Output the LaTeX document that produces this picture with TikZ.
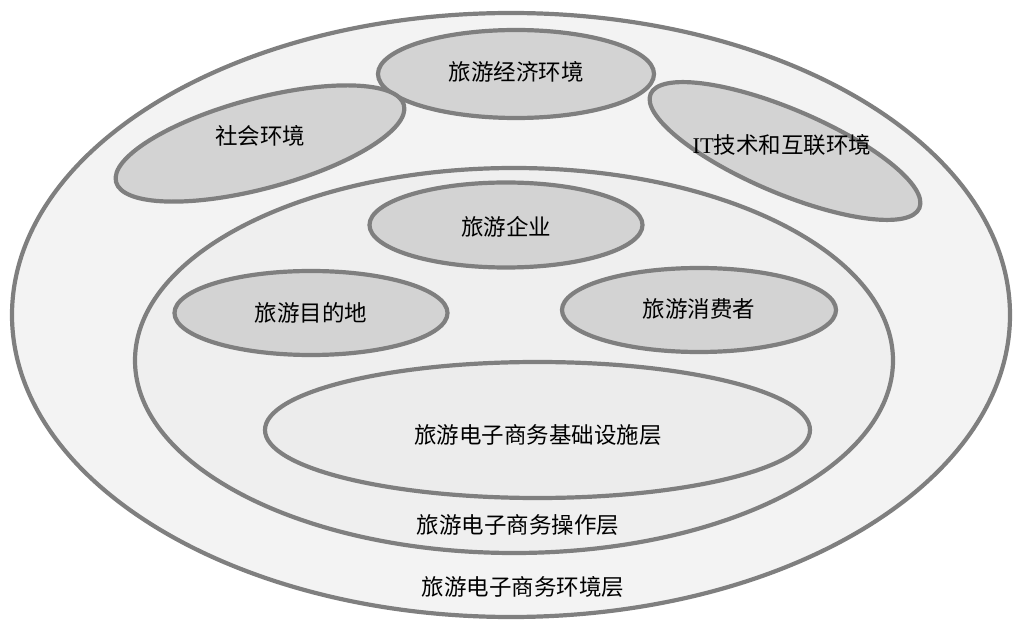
\documentclass[tikz,border=0pt]{standalone}
\usepackage{fontspec}
\setmainfont{Liberation Serif}
\newfontfamily\cjk{Noto Sans CJK SC}
\usetikzlibrary{shapes.geometric}
\definecolor{edge}{HTML}{7F7F7F}
\definecolor{outerfill}{HTML}{F3F3F3}
\definecolor{opfill}{HTML}{EFEFEF}
\definecolor{infill}{HTML}{ECECEC}
\definecolor{darkfill}{HTML}{D3D3D3}
\tikzset{
  shell/.style={ellipse, draw=edge, line width=4.2pt, inner sep=0pt, outer sep=0pt},
  bubble/.style={shell, fill=darkfill},
  lbl/.style={font=\cjk\fontsize{22.5}{26}\selectfont, text=black, inner sep=0pt}
}
\begin{document}
\begin{tikzpicture}[x=1pt,y=-1pt]
\useasboundingbox (0,0) rectangle (1013,620);
% layers
\node[shell, fill=outerfill, minimum width=998pt, minimum height=604pt] (env) at (511,315) {};
\node[shell, fill=opfill, minimum width=758pt, minimum height=385pt] (op) at (514,360.5) {};
\node[shell, fill=infill, minimum width=545pt, minimum height=136pt] (infra) at (537.5,430) {};
% environment bubbles
\node[bubble, minimum width=276pt, minimum height=88pt] (econ) at (516,74) {};
\node[bubble, rotate=15, minimum width=298pt, minimum height=90pt] (soc) at (260,143.5) {};
\node[bubble, rotate=-23, minimum width=292pt, minimum height=84pt] (it) at (785,151) {};
% operation bubbles
\node[bubble, minimum width=273pt, minimum height=85pt] (ent) at (506,225) {};
\node[bubble, minimum width=273pt, minimum height=84pt] (dest) at (311,313) {};
\node[bubble, minimum width=274pt, minimum height=84pt] (cons) at (699,310) {};
% labels
\node[lbl] (tecon) at (516,72) {旅游经济环境};
\node[lbl] (tsoc) at (260,136) {社会环境};
\node[lbl] (tit) at (782,145) {{\rmfamily IT}技术和互联环境};
\node[lbl] (tent) at (506,227) {旅游企业};
\node[lbl] (tdest) at (311,313) {旅游目的地};
\node[lbl] (tcons) at (699,309) {旅游消费者};
\node[lbl] (tinfra) at (538,435) {旅游电子商务基础设施层};
\node[lbl] (top) at (518,525) {旅游电子商务操作层};
\node[lbl] (tenv) at (523,587) {旅游电子商务环境层};
\end{tikzpicture}
\end{document}
